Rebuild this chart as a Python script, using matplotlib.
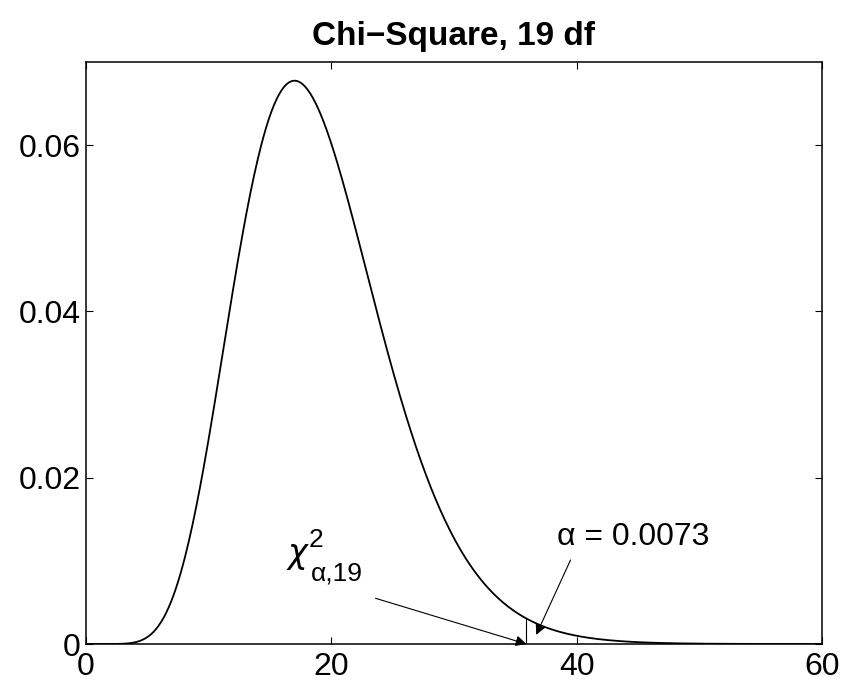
import math
import numpy as np
import matplotlib.pyplot as plt

plt.rcParams['font.family'] = ['Liberation Sans', 'DejaVu Sans']

# chart values
df = 19
alpha = 0.0073
x_crit = 35.9
x_grid = np.linspace(0, 60, 601)
x_ticks = [0, 20, 40, 60]
y_ticks = [0, 0.02, 0.04, 0.06]
y_tick_labels = ['0', '0.02', '0.04', '0.06']
y_top = 0.07


def chi2_pdf(x, k):
    x = np.asarray(x, dtype=float)
    out = np.zeros_like(x)
    pos = x > 0
    logc = -(k / 2) * math.log(2) - math.lgamma(k / 2)
    out[pos] = np.exp(logc + (k / 2 - 1) * np.log(x[pos]) - x[pos] / 2)
    return out


y = chi2_pdf(x_grid, df)
y_crit = chi2_pdf([x_crit], df)[0]

fig = plt.figure(figsize=(8.44, 6.81), dpi=100)
ax = fig.add_axes([86 / 844, 37 / 681, 736 / 844, 582 / 681])

ax.plot(x_grid, y, color='black', lw=1.3)
ax.plot([x_crit, x_crit], [0, y_crit], color='black', lw=0.8)

ax.set_xlim(0, 60)
ax.set_ylim(0, y_top)
ax.set_xticks(x_ticks)
ax.set_yticks(y_ticks)
ax.set_xticklabels([str(t) for t in x_ticks])
ax.set_yticklabels(y_tick_labels)
ax.tick_params(direction='in', length=5, width=0.8, labelsize=23, top=True, right=True)
ax.tick_params(axis='x', pad=6)
ax.tick_params(axis='y', pad=4)
for s in ax.spines.values():
    s.set_linewidth(1.1)

ax.set_title('Chi\u2212Square, %d df' % df, fontsize=24, fontweight='bold', pad=12)

arrow = dict(arrowstyle='-|>', color='black', lw=0.8, mutation_scale=16,
             shrinkA=0, shrinkB=0)
ax.annotate('', xy=(x_crit, 0), xytext=(23.6, 0.0055), arrowprops=arrow)
ax.annotate('', xy=(36.7, 0.0011), xytext=(39.5, 0.0101), arrowprops=arrow)

# chi^2_{alpha,19} label built from pieces
chi_pos = (16.3, 0.0105)
ax.annotate(r'$\chi$', chi_pos, xytext=(0, -6), textcoords='offset pixels',
            fontsize=24, ha='left', va='baseline')
ax.annotate('2', chi_pos, xytext=(23, 10), textcoords='offset pixels',
            fontsize=19, ha='left', va='baseline')
ax.annotate('\u03b1,%d' % df, chi_pos, xytext=(25, -24), textcoords='offset pixels',
            fontsize=19, ha='left', va='baseline')

ax.text(38.4, 0.0119, '\u03b1 = %s' % alpha, fontsize=23, ha='left', va='baseline')

fig.savefig('out.png', dpi=100)
